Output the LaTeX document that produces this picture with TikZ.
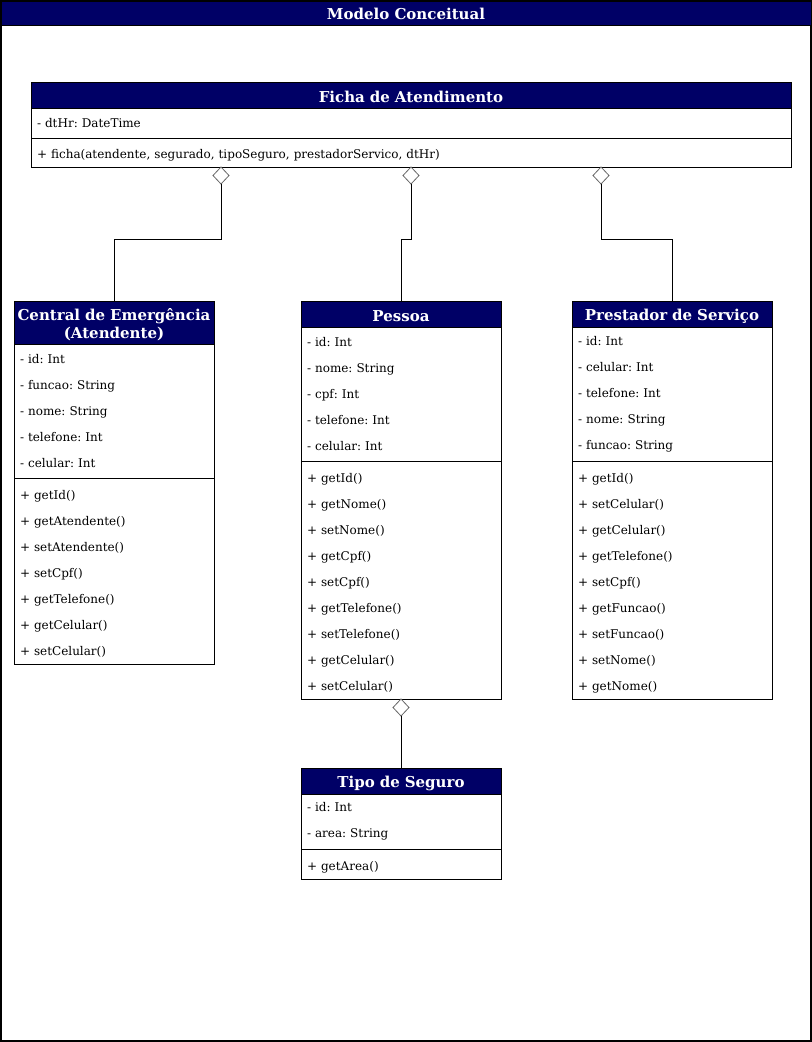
\documentclass[tikz,border=0pt]{standalone}
\usepackage{fontspec}
\setmainfont{DejaVu Serif}
\usepackage{tikz}
\usetikzlibrary{shapes.geometric, calc}

\definecolor{navy}{HTML}{000066}
\frenchspacing

\tikzset{
  classhead/.style={draw, fill=navy, text=white, anchor=north, minimum width=150pt, text width=148pt,
    align=center, inner xsep=1pt, inner ysep=0pt, outer sep=0pt, minimum height=19.5pt,
    font=\fontsize{11.25pt}{13.5pt}\selectfont\bfseries, execute at begin node={\rule{0pt}{12pt}}},
  classpart/.style={draw, anchor=north, minimum width=150pt, text width=141pt, align=left,
    inner xsep=4.5pt, inner ysep=0pt, outer sep=0pt, font=\fontsize{9pt}{19.5pt}\selectfont},
  methpart/.style={classpart, execute at begin node={\rule{0pt}{11.5pt}}},
  aggr/.style={diamond, draw=black!60, fill=white, anchor=north, minimum width=12pt,
    minimum height=12.75pt, inner sep=0pt, outer sep=0pt},
}

\begin{document}
\begin{tikzpicture}[x=0.75pt, y=-0.75pt, line width=0.6pt]

  \useasboundingbox (0, 0) rectangle (812, 1042);

  % frame
  \draw[line width=1.5pt] (1, 1) rectangle (811, 1041);
  \draw[fill=navy] (1, 1) rectangle (811, 25);
  \node[text=white, font=\fontsize{11.25pt}{12pt}\selectfont\bfseries] (title) at (406, 14) {Modelo Conceitual};

  % Ficha de Atendimento
  \node[classhead, minimum width=570pt, text width=568pt] (ficha-head) at (411, 82) {Ficha de Atendimento};
  \node[classpart, minimum width=570pt, text width=561pt, minimum height=22.5pt] (ficha-attr) at (ficha-head.south) {- dtHr: DateTime};
  \node[methpart, minimum width=570pt, text width=561pt, minimum height=21.75pt] (ficha-meth) at (ficha-attr.south) {+ ficha(atendente, segurado, tipoSeguro, prestadorServico, dtHr)};

  % Central de Emergencia
  \node[classhead, minimum height=32.25pt] (central-head) at (114, 301) {Central de Emergência\\(Atendente)};
  \node[classpart, minimum height=100.5pt] (central-attr) at (central-head.south) {- id: Int\\- funcao: String\\- nome: String\\- telefone: Int\\- celular: Int};
  \node[methpart, minimum height=139.5pt] (central-meth) at (central-attr.south) {+ getId()\\+ getAtendente()\\+ setAtendente()\\+ setCpf()\\+ getTelefone()\\+ getCelular()\\+ setCelular()};

  % Pessoa
  \node[classhead] (pessoa-head) at (401, 301) {Pessoa};
  \node[classpart, minimum height=100.5pt] (pessoa-attr) at (pessoa-head.south) {- id: Int\\- nome: String\\- cpf: Int\\- telefone: Int\\- celular: Int};
  \node[methpart, minimum height=178.5pt] (pessoa-meth) at (pessoa-attr.south) {+ getId()\\+ getNome()\\+ setNome()\\+ getCpf()\\+ setCpf()\\+ getTelefone()\\+ setTelefone()\\+ getCelular()\\+ setCelular()};

  % Prestador de Servico
  \node[classhead] (prest-head) at (672, 301) {Prestador de Serviço};
  \node[classpart, minimum height=100.5pt] (prest-attr) at (prest-head.south) {- id: Int\\- celular: Int\\- telefone: Int\\- nome: String\\- funcao: String};
  \node[methpart, minimum height=178.5pt] (prest-meth) at (prest-attr.south) {+ getId()\\+ setCelular()\\+ getCelular()\\+ getTelefone()\\+ setCpf()\\+ getFuncao()\\+ setFuncao()\\+ setNome()\\+ getNome()};

  % Tipo de Seguro
  \node[classhead] (tipo-head) at (401, 768) {Tipo de Seguro};
  \node[classpart, minimum height=41.25pt] (tipo-attr) at (tipo-head.south) {- id: Int\\- area: String};
  \node[methpart, minimum height=22.5pt] (tipo-meth) at (tipo-attr.south) {+ getArea()};

  % aggregations
  \coordinate (f1) at ($(ficha-meth.south west)!0.25!(ficha-meth.south east)$);
  \coordinate (f2) at ($(ficha-meth.south west)!0.5!(ficha-meth.south east)$);
  \coordinate (f3) at ($(ficha-meth.south west)!0.75!(ficha-meth.south east)$);
  \node[aggr] (d1) at (f1) {};
  \node[aggr] (d2) at (f2) {};
  \node[aggr] (d3) at (f3) {};
  \node[aggr] (d4) at (pessoa-meth.south) {};

  \draw (d1.south) -- ++(0, 55) -| (central-head.north);
  \draw (d2.south) -- ++(0, 55) -| (pessoa-head.north);
  \draw (d3.south) -- ++(0, 55) -| (prest-head.north);
  \draw (d4.south) -- (tipo-head.north);

\end{tikzpicture}
\end{document}
